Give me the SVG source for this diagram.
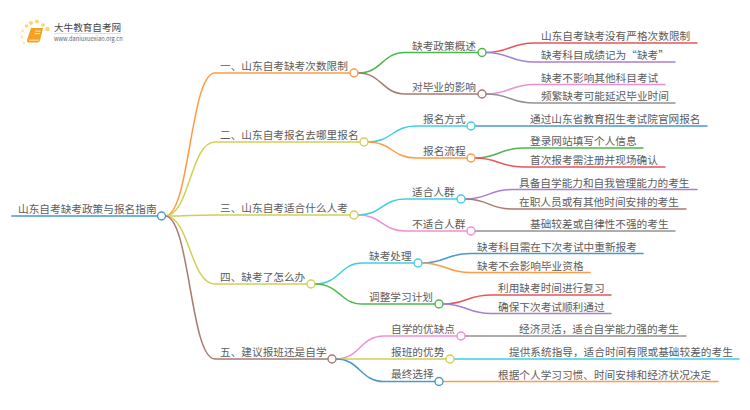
<svg xmlns="http://www.w3.org/2000/svg" width="750" height="410" viewBox="0 0 750 410">
<style>
text{font-family:"Noto Sans CJK SC","Noto Sans",sans-serif;font-size:10.67px;fill:#5c5c5c}
#connectors path{fill:none;stroke-width:1.5;stroke-linecap:round}
.node{fill:#fff;stroke-width:1.4}
.dot{fill:#fdd27a}.dot2{fill:#fee4ad}
.o{stroke:#ff9a45}.y{stroke:#d2cf55}.b{stroke:#a87a72}.g{stroke:#4cb84c}.r{stroke:#e8555a}.p{stroke:#a97fd0}.k{stroke:#ee8fd5}.a{stroke:#929292}.c{stroke:#3fd0e0}.u{stroke:#4a98cc}
</style>
<g id="logo">
<circle class="dot" cx="31" cy="23" r="2"/><circle class="dot" cx="37" cy="21.500" r="2"/><circle class="dot" cx="43" cy="25" r="1.800"/><circle class="dot" cx="47.500" cy="29" r="2.200"/><circle class="dot" cx="26.500" cy="26" r="1.800"/><circle class="dot2" cx="22.500" cy="31" r="1.400"/><circle class="dot2" cx="22" cy="37" r="1.400"/><circle class="dot2" cx="24" cy="43" r="1.200"/>
<path d="M31 28H43L40 40.500Q39.500 42.500 37.500 42.500H29Q26.500 42.500 27 40Z" fill="#f4a020"/>
<path d="M28.500 39.500H39.500L39 41H29Z" fill="#fbd48c"/>
<rect x="35" y="30.500" width="5.500" height="1.200" fill="#fbe0a8"/>
<rect x="34.500" y="33" width="5.500" height="1.200" fill="#fbe0a8"/>
<text x="54" y="31" style="font-size:9.600px;fill:#444">大牛教育自考网</text>
<rect x="54" y="33" width="67" height="0.600" fill="#ccc"/>
<text x="54" y="41" style="font-size:5.700px;fill:#666">www.daniuxuexiao.org.cn</text>
</g>
<g id="connectors">
<path class="u" d="M12 216H158" style="stroke-width:1.700"/>
<path class="o" d="M165 216C190 216 190 73 215 73H350"/>
<path class="y" d="M165 216C190 216 190 142 215 142H360"/>
<path class="y" d="M165 216C190 216 190 215 215 215H350"/>
<path class="y" d="M165 216C190 216 190 284 215 284H307"/>
<path class="b" d="M165 216C190 216 190 359 215 359H328"/>
<path class="g" d="M358 73C382 73 382 52.500 405 52.500H478"/>
<path class="b" d="M358 73C382 73 382 94 405 94H478"/>
<path class="c" d="M368 142C392 142 392 126 416 126H467"/>
<path class="o" d="M368 142C392 142 392 158 416 158H467"/>
<path class="c" d="M358 215C382 215 382 199 405 199H457"/>
<path class="k" d="M358 215C382 215 382 231 405 231H467"/>
<path class="c" d="M315 284C340 284 340 263 362 263H414"/>
<path class="g" d="M315 284C340 284 340 304 362 304H435"/>
<path class="k" d="M336 359C360 359 360 336 384 336H457"/>
<path class="y" d="M336 359H446"/>
<path class="u" d="M336 359C360 359 360 381.500 384 381.500H435"/>
<path class="r" d="M486 52.500C510 52.500 510 43 534 43H697"/>
<path class="p" d="M486 52.500C510 52.500 510 62 534 62H675"/>
<path class="k" d="M486 94C510 94 510 84.500 534 84.500H665"/>
<path class="a" d="M486 94C510 94 510 103 534 103H675"/>
<path class="u" d="M475 126H707"/>
<path class="g" d="M475 158C499 158 499 148 523 148H643"/>
<path class="r" d="M475 158C499 158 499 167 523 167H665"/>
<path class="p" d="M465 199C489 199 489 189.500 512 189.500H697"/>
<path class="b" d="M465 199C489 199 489 209 512 209H686"/>
<path class="a" d="M475 231H675"/>
<path class="u" d="M422 263C446 263 446 253.500 470 253.500H643"/>
<path class="o" d="M422 263C446 263 446 272.500 470 272.500H590"/>
<path class="r" d="M443 304C467 304 467 295 491 295H611"/>
<path class="p" d="M443 304C467 304 467 313.500 491 313.500H611"/>
<path class="a" d="M465 336H686"/>
<path class="c" d="M454 359H739"/>
<path class="o" d="M443 381.500H718"/>
</g>
<g id="root"><text x="18" y="213">山东自考缺考政策与报名指南</text><circle class="node u" cx="161.500" cy="216" r="4"/></g>
<g id="n1"><text x="220" y="70">一、山东自考缺考次数限制</text><circle class="node o" cx="354" cy="73" r="4"/></g>
<g id="n2"><text x="220" y="139">二、山东自考报名去哪里报名</text><circle class="node y" cx="364" cy="142" r="4"/></g>
<g id="n3"><text x="220" y="212">三、山东自考适合什么人考</text><circle class="node y" cx="354" cy="215" r="4"/></g>
<g id="n4"><text x="220" y="281">四、缺考了怎么办</text><circle class="node y" cx="311" cy="284" r="4"/></g>
<g id="n5"><text x="220" y="356">五、建议报班还是自学</text><circle class="node b" cx="332" cy="359" r="4"/></g>
<g id="n11"><text x="412" y="49.500">缺考政策概述</text><circle class="node g" cx="482" cy="52.500" r="4"/></g>
<g id="n12"><text x="412" y="91">对毕业的影响</text><circle class="node b" cx="482" cy="94" r="4"/></g>
<g id="n21"><text x="423" y="123">报名方式</text><circle class="node c" cx="471" cy="126" r="4"/></g>
<g id="n22"><text x="423" y="155">报名流程</text><circle class="node o" cx="471" cy="158" r="4"/></g>
<g id="n31"><text x="412" y="196">适合人群</text><circle class="node c" cx="461" cy="199" r="4"/></g>
<g id="n32"><text x="412" y="228">不适合人群</text><circle class="node k" cx="471" cy="231" r="4"/></g>
<g id="n41"><text x="369" y="260">缺考处理</text><circle class="node c" cx="418" cy="263" r="4"/></g>
<g id="n42"><text x="369" y="301">调整学习计划</text><circle class="node g" cx="439" cy="304" r="4"/></g>
<g id="n51"><text x="391" y="333">自学的优缺点</text><circle class="node k" cx="461" cy="336" r="4"/></g>
<g id="n52"><text x="391" y="356">报班的优势</text><circle class="node y" cx="450" cy="359" r="4"/></g>
<g id="n53"><text x="391" y="378">最终选择</text><circle class="node u" cx="439" cy="381.500" r="4"/></g>
<g id="leaves">
<text x="541" y="40">山东自考缺考没有严格次数限制</text>
<text x="541" y="59">缺考科目成绩记为“缺考”</text>
<text x="541" y="81.500">缺考不影响其他科目考试</text>
<text x="541" y="100">频繁缺考可能延迟毕业时间</text>
<text x="530" y="123">通过山东省教育招生考试院官网报名</text>
<text x="530" y="145">登录网站填写个人信息</text>
<text x="530" y="164">首次报考需注册并现场确认</text>
<text x="519" y="186.500">具备自学能力和自我管理能力的考生</text>
<text x="519" y="206">在职人员或有其他时间安排的考生</text>
<text x="530" y="228">基础较差或自律性不强的考生</text>
<text x="477" y="250.500">缺考科目需在下次考试中重新报考</text>
<text x="477" y="269.500">缺考不会影响毕业资格</text>
<text x="498" y="292">利用缺考时间进行复习</text>
<text x="498" y="310.500">确保下次考试顺利通过</text>
<text x="519" y="333">经济灵活，适合自学能力强的考生</text>
<text x="509" y="356">提供系统指导，适合时间有限或基础较差的考生</text>
<text x="498" y="378.500">根据个人学习习惯、时间安排和经济状况决定</text>
</g>
</svg>
